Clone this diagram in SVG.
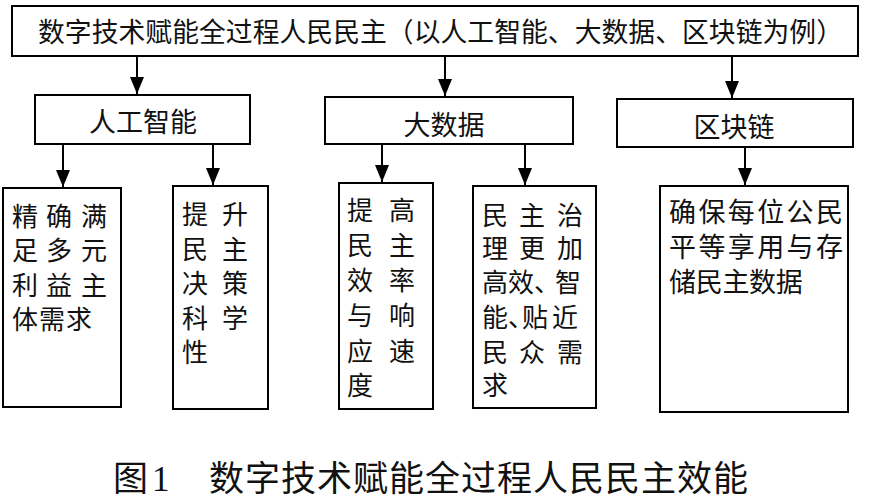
<svg xmlns="http://www.w3.org/2000/svg" width="870" height="500" viewBox="0 0 870 500">
<style>
.box{fill:#fff;stroke:#000;stroke-width:2}
.t{font-family:"Liberation Serif","Noto Sans CJK SC",serif;fill:#111}
.h{font-size:26.8px}
.m{font-size:27px}
.b{font-size:26px}
.c{font-size:35px}
.conn line{stroke:#000;stroke-width:2}
</style>
<defs>
<marker id="ah" markerUnits="userSpaceOnUse" markerWidth="18" markerHeight="14" refX="17" refY="7" orient="auto">
<path d="M0,0 L17,7 L0,14 Z" fill="#000"/>
</marker>
</defs>
<rect width="870" height="500" fill="#fff"/>
<g id="root">
<rect class="box" x="12" y="6" width="846" height="50"/>
<text class="t h" x="38" y="42" textLength="805" lengthAdjust="spacing">数字技术赋能全过程人民民主（以人工智能、大数据、区块链为例）</text>
</g>
<g id="ai">
<rect class="box" x="35" y="95" width="215" height="49"/>
<text class="t m" x="143" y="132" text-anchor="middle">人工智能</text>
</g>
<g id="bigdata">
<rect class="box" x="325" y="97" width="248" height="47"/>
<text class="t m" x="444" y="135" text-anchor="middle">大数据</text>
</g>
<g id="blockchain">
<rect class="box" x="617" y="99" width="236" height="48"/>
<text class="t m" x="734" y="137" text-anchor="middle">区块链</text>
</g>
<g id="ai1">
<rect class="box" x="3" y="188" width="118" height="219"/>
<text class="t b"><tspan x="12 46 81" y="226">精确满</tspan><tspan x="12 46 81" y="260">足多元</tspan><tspan x="12 46 81" y="295">利益主</tspan><tspan x="12 39 66" y="329">体需求</tspan></text>
</g>
<g id="ai2">
<rect class="box" x="173" y="186" width="95" height="223"/>
<text class="t b"><tspan x="182 222" y="224">提升</tspan><tspan x="182 222" y="258.5">民主</tspan><tspan x="182 222" y="293">决策</tspan><tspan x="182 222" y="327.5">科学</tspan><tspan x="182" y="362">性</tspan></text>
</g>
<g id="bd1">
<rect class="box" x="339" y="183" width="94" height="226"/>
<text class="t b"><tspan x="347 389" y="220">提高</tspan><tspan x="347 389" y="255">民主</tspan><tspan x="347 389" y="290">效率</tspan><tspan x="347 389" y="325">与响</tspan><tspan x="347 389" y="361">应速</tspan><tspan x="347" y="395">度</tspan></text>
</g>
<g id="bd2">
<rect class="box" x="473" y="186" width="123" height="222"/>
<text class="t b"><tspan x="482 519 557" y="225">民主治</tspan><tspan x="482 519 557" y="258">理更加</tspan><tspan x="482 508 534 555" y="292">高效、智</tspan><tspan x="482 508 522 552" y="327">能、贴近</tspan><tspan x="482 519 557" y="362">民众需</tspan><tspan x="482" y="395">求</tspan></text>
</g>
<g id="bc1">
<rect class="box" x="660" y="186" width="188" height="226"/>
<text class="t m"><tspan x="669 698.4 727.8 757.2 786.6 816" y="222">确保每位公民</tspan><tspan x="669 698.4 727.8 757.2 786.6 816" y="257">平等享用与存</tspan><tspan x="669 695.7 722.4 749.1 775.8" y="292">储民主数据</tspan></text>
</g>
<g class="conn" id="connectors">
<line x1="137" y1="56" x2="137" y2="94" marker-end="url(#ah)"/>
<line x1="445" y1="56" x2="445" y2="96" marker-end="url(#ah)"/>
<line x1="732" y1="56" x2="732" y2="98" marker-end="url(#ah)"/>
<line x1="63" y1="144" x2="63" y2="187" marker-end="url(#ah)"/>
<line x1="213" y1="144" x2="213" y2="185" marker-end="url(#ah)"/>
<line x1="382" y1="144" x2="382" y2="182" marker-end="url(#ah)"/>
<line x1="525" y1="144" x2="525" y2="185" marker-end="url(#ah)"/>
<line x1="745" y1="147" x2="745" y2="185" marker-end="url(#ah)"/>
</g>
<g id="caption">
<text class="t c" y="491"><tspan x="113">图</tspan><tspan x="152">1</tspan></text>
<text class="t c" x="209" y="491" textLength="539" lengthAdjust="spacing">数字技术赋能全过程人民民主效能</text>
</g>
</svg>
